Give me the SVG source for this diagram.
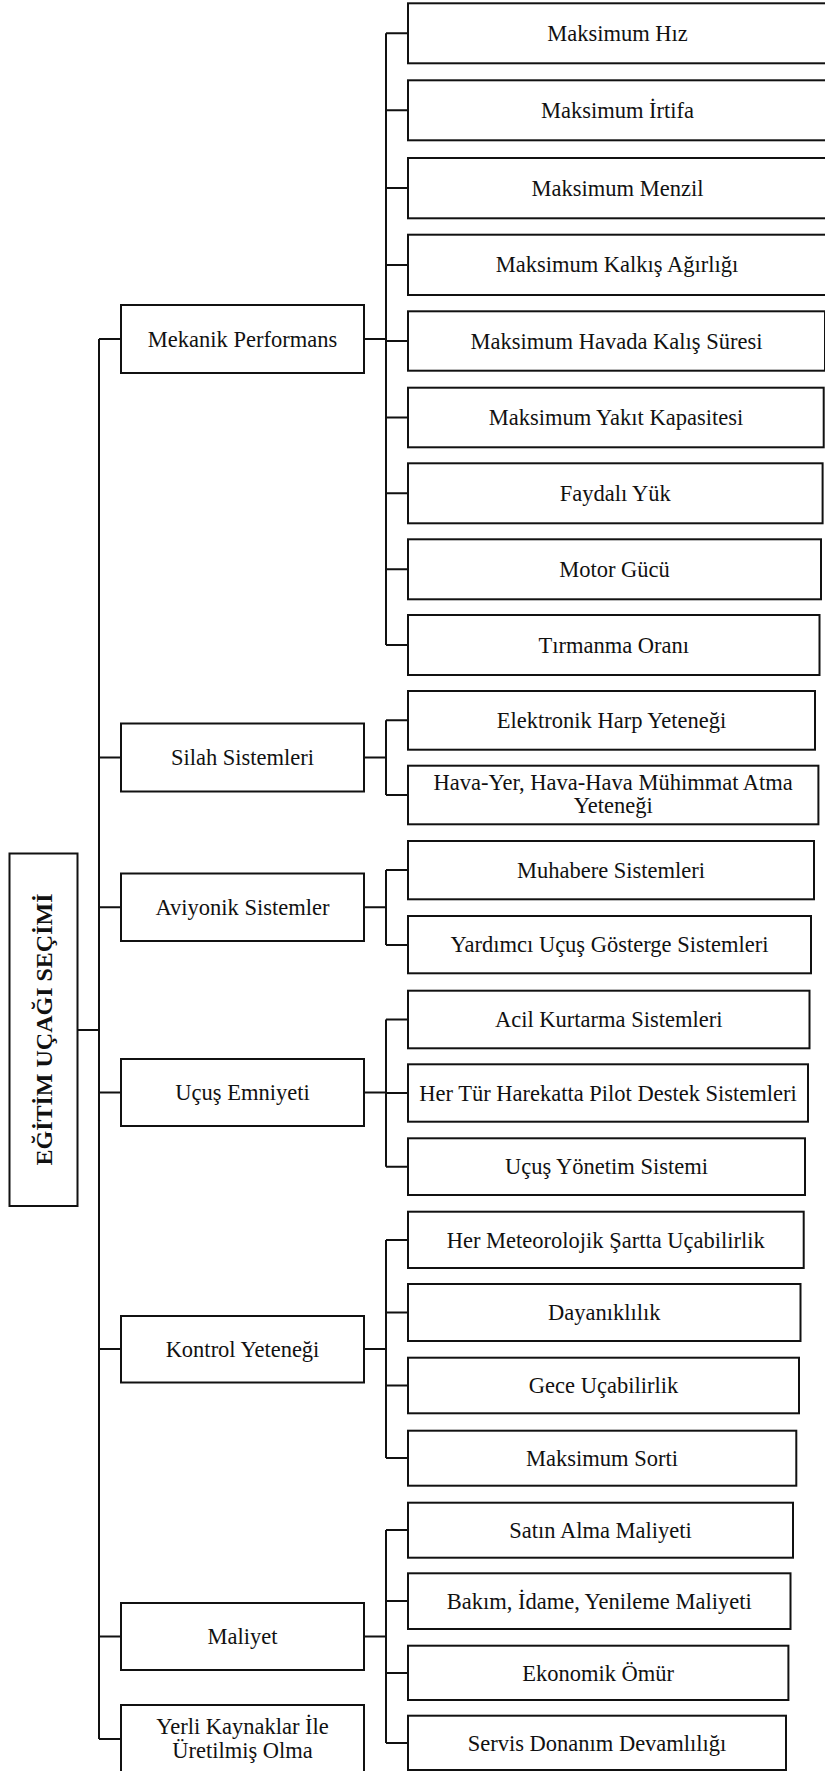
<svg xmlns="http://www.w3.org/2000/svg" width="825" height="1771" viewBox="0 0 825 1771">
<style>
rect{fill:#fff;stroke:#111;stroke-width:2}
#connectors path{fill:none;stroke:#111;stroke-width:2}
text{font-family:"Liberation Serif","Times New Roman",serif;font-size:22.5px;fill:#111;text-anchor:middle}
.root{font-weight:bold;font-size:24px}
</style>
<rect x="0" y="0" width="825" height="1771" style="fill:#fff;stroke:none"/>
<g id="connectors">
<path d="M77.5 1030H99M99 339V1739M99 339H121M99 757.5H121M99 907.3H121M99 1092.5H121M99 1349H121M99 1636.5H121M99 1739H121"/>
<path d="M364 339H386M386 33.3V645M386 33.3H408M386 110.3H408M386 188H408M386 265H408M386 341H408M386 417.5H408M386 493.3H408M386 569.3H408M386 645H408"/>
<path d="M364 757.5H386M386 720.3V795M386 720.3H408M386 795H408"/>
<path d="M364 907.3H386M386 870V945M386 870H408M386 945H408"/>
<path d="M364 1092.5H386M386 1019.5V1166.7M386 1019.5H408M386 1093H408M386 1166.7H408"/>
<path d="M364 1349H386M386 1240V1458M386 1240H408M386 1312.5H408M386 1385.5H408M386 1458H408"/>
<path d="M364 1636.5H386M386 1530V1743M386 1530H408M386 1601H408M386 1673H408M386 1743H408"/>
</g>
<g id="root"><rect x="9.5" y="853.5" width="68" height="352.5"/><text class="root" transform="translate(51.5,1029.5) rotate(-90)">EĞİTİM UÇAĞI SEÇİMİ</text></g>
<g id="n-mekanik"><rect x="121" y="305" width="243" height="68"/><text x="242.5" y="346.5">Mekanik Performans</text></g>
<g id="n-silah"><rect x="121" y="723.5" width="243" height="68"/><text x="242.5" y="765">Silah Sistemleri</text></g>
<g id="n-aviyonik"><rect x="121" y="873.5" width="243" height="67.5"/><text x="242.5" y="914.8">Aviyonik Sistemler</text></g>
<g id="n-emniyet"><rect x="121" y="1059" width="243" height="67"/><text x="242.5" y="1100">Uçuş Emniyeti</text></g>
<g id="n-kontrol"><rect x="121" y="1316" width="243" height="66.5"/><text x="242.5" y="1356.5">Kontrol Yeteneği</text></g>
<g id="n-maliyet"><rect x="121" y="1603" width="243" height="67"/><text x="242.5" y="1644">Maliyet</text></g>
<g id="n-yerli"><rect x="121" y="1705" width="243" height="70"/><text x="242.5" y="1733.5">Yerli Kaynaklar İle</text><text x="242.5" y="1757.5">Üretilmiş Olma</text></g>
<g id="c-hiz"><rect x="408" y="3.3" width="419" height="60"/><text x="617.5" y="40.8">Maksimum Hız</text></g>
<g id="c-irtifa"><rect x="408" y="80.3" width="419" height="60"/><text x="617.5" y="117.8">Maksimum İrtifa</text></g>
<g id="c-menzil"><rect x="408" y="158" width="419" height="60.3"/><text x="617.5" y="195.5">Maksimum Menzil</text></g>
<g id="c-kalkis"><rect x="408" y="234.7" width="418" height="60.3"/><text x="617" y="272.3">Maksimum Kalkış Ağırlığı</text></g>
<g id="c-havada"><rect x="408" y="311.3" width="417" height="59.4"/><text x="616.5" y="348.5">Maksimum Havada Kalış Süresi</text></g>
<g id="c-yakit"><rect x="408" y="387.7" width="415.7" height="59.6"/><text x="616" y="425">Maksimum Yakıt Kapasitesi</text></g>
<g id="c-faydali"><rect x="408" y="463.3" width="414.6" height="60"/><text x="615.3" y="500.8">Faydalı Yük</text></g>
<g id="c-motor"><rect x="408" y="539.3" width="413" height="60"/><text x="614.5" y="576.8">Motor Gücü</text></g>
<g id="c-tirmanma"><rect x="408" y="615" width="411.5" height="60"/><text x="613.7" y="652.5">Tırmanma Oranı</text></g>
<g id="c-elektronik"><rect x="408" y="691" width="407" height="58.7"/><text x="611.5" y="727.8">Elektronik Harp Yeteneği</text></g>
<g id="c-muhimmat"><rect x="408" y="765.7" width="410.4" height="58.6"/><text x="613.2" y="790">Hava-Yer, Hava-Hava Mühimmat Atma</text><text x="613.2" y="812.7">Yeteneği</text></g>
<g id="c-muhabere"><rect x="408" y="841" width="406" height="58.3"/><text x="611" y="877.6">Muhabere Sistemleri</text></g>
<g id="c-yardimci"><rect x="408" y="916" width="403" height="57.3"/><text x="609.5" y="952.2">Yardımcı Uçuş Gösterge Sistemleri</text></g>
<g id="c-acil"><rect x="408" y="990.7" width="401.5" height="57.6"/><text x="608.7" y="1027">Acil Kurtarma Sistemleri</text></g>
<g id="c-pilot"><rect x="408" y="1064.3" width="400" height="57.4"/><text x="608" y="1100.5">Her Tür Harekatta Pilot Destek Sistemleri</text></g>
<g id="c-yonetim"><rect x="408" y="1138.3" width="397" height="56.7"/><text x="606.5" y="1174.2">Uçuş Yönetim Sistemi</text></g>
<g id="c-meteoroloji"><rect x="408" y="1211.7" width="395.7" height="56.3"/><text x="605.8" y="1247.5">Her Meteorolojik Şartta Uçabilirlik</text></g>
<g id="c-dayanik"><rect x="408" y="1284" width="392.5" height="57"/><text x="604.2" y="1320">Dayanıklılık</text></g>
<g id="c-gece"><rect x="408" y="1357.7" width="391" height="55.6"/><text x="603.5" y="1393">Gece Uçabilirlik</text></g>
<g id="c-sorti"><rect x="408" y="1430.7" width="388.3" height="55"/><text x="602" y="1465.5">Maksimum Sorti</text></g>
<g id="c-satin"><rect x="408" y="1502.7" width="385" height="55"/><text x="600.5" y="1537.5">Satın Alma Maliyeti</text></g>
<g id="c-bakim"><rect x="408" y="1573.3" width="382.5" height="55.7"/><text x="599.2" y="1608.5">Bakım, İdame, Yenileme Maliyeti</text></g>
<g id="c-ekonomik"><rect x="408" y="1645.7" width="380.4" height="54.3"/><text x="598.2" y="1680.5">Ekonomik Ömür</text></g>
<g id="c-servis"><rect x="408" y="1715.7" width="378" height="54.3"/><text x="597" y="1750.5">Servis Donanım Devamlılığı</text></g>
</svg>
